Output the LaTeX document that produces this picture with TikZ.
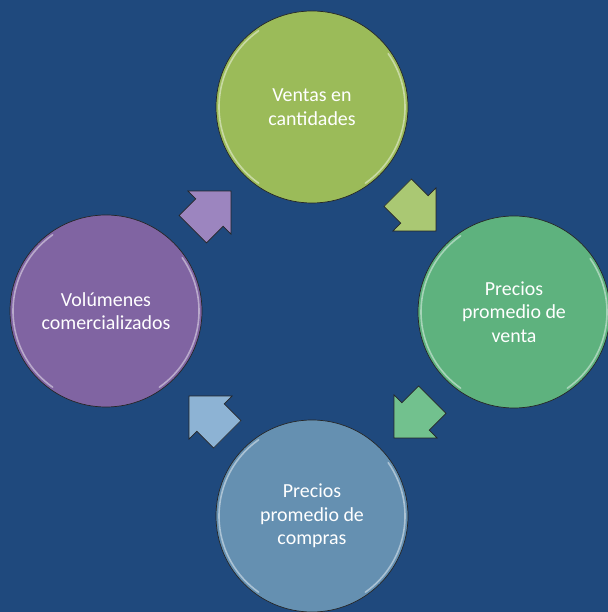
\documentclass[tikz,border=0pt]{standalone}
\usepackage{fontspec}
\setmainfont{Carlito}
\usetikzlibrary{shapes.arrows}
\definecolor{fondo}{HTML}{1F497D}
\definecolor{verde}{HTML}{9BBB59}
\definecolor{verdeazul}{HTML}{5EB27E}
\definecolor{azulgris}{HTML}{6590B1}
\definecolor{morado}{HTML}{8064A2}
\definecolor{verdeclaro}{HTML}{AAC873}
\definecolor{verdeazulclaro}{HTML}{72C18E}
\definecolor{azulclaro}{HTML}{8DB3D4}
\definecolor{moradoclaro}{HTML}{9C85BF}
\begin{document}
\begin{tikzpicture}[x=1bp,y=1bp,
		bubble/.style={circle,draw=black!85,line width=0.7bp,minimum size=192bp,inner sep=0pt,
				text=white,align=center,font=\fontsize{20}{23.5}\selectfont},
		flecha/.style={single arrow,draw=black!85,line width=0.7bp,minimum height=54bp,
				inner xsep=4bp,inner ysep=19bp,single arrow head extend=11bp},
		glow/.style={white,opacity=0.45,line width=1.6bp,line cap=round}]
	% background
	\fill[fondo] (0,0) rectangle (608,612);
	\useasboundingbox (0,0) rectangle (608,612);
	% the four circles
	\node[bubble,fill=verde] (ventas) at (312,505) {Ventas en\\cantidades};
	\node[bubble,fill=verdeazul] (pventa) at (514,300) {Precios\\promedio de\\venta};
	\node[bubble,fill=azulgris] (pcompra) at (312,96) {Precios\\promedio de\\compras};
	\node[bubble,fill=morado] (volumen) at (106,301) {Volúmenes\\comercializados};
	% rim highlights
	\foreach \n in {ventas,pventa,pcompra,volumen}{
			\draw[glow] (\n.center) ++(125:93) arc (125:235:93);
			\draw[glow] (\n.center) ++(-55:93) arc (-55:35:93);
		}
	% arrows between the circles
	\node[flecha,fill=moradoclaro,rotate=45] (f1) at (205,395) {};
	\node[flecha,fill=verdeclaro,rotate=-45] (f2) at (410,407) {};
	\node[flecha,fill=verdeazulclaro,rotate=-135] (f3) at (420,200) {};
	\node[flecha,fill=azulclaro,rotate=135] (f4) at (215,190) {};
\end{tikzpicture}
\end{document}
